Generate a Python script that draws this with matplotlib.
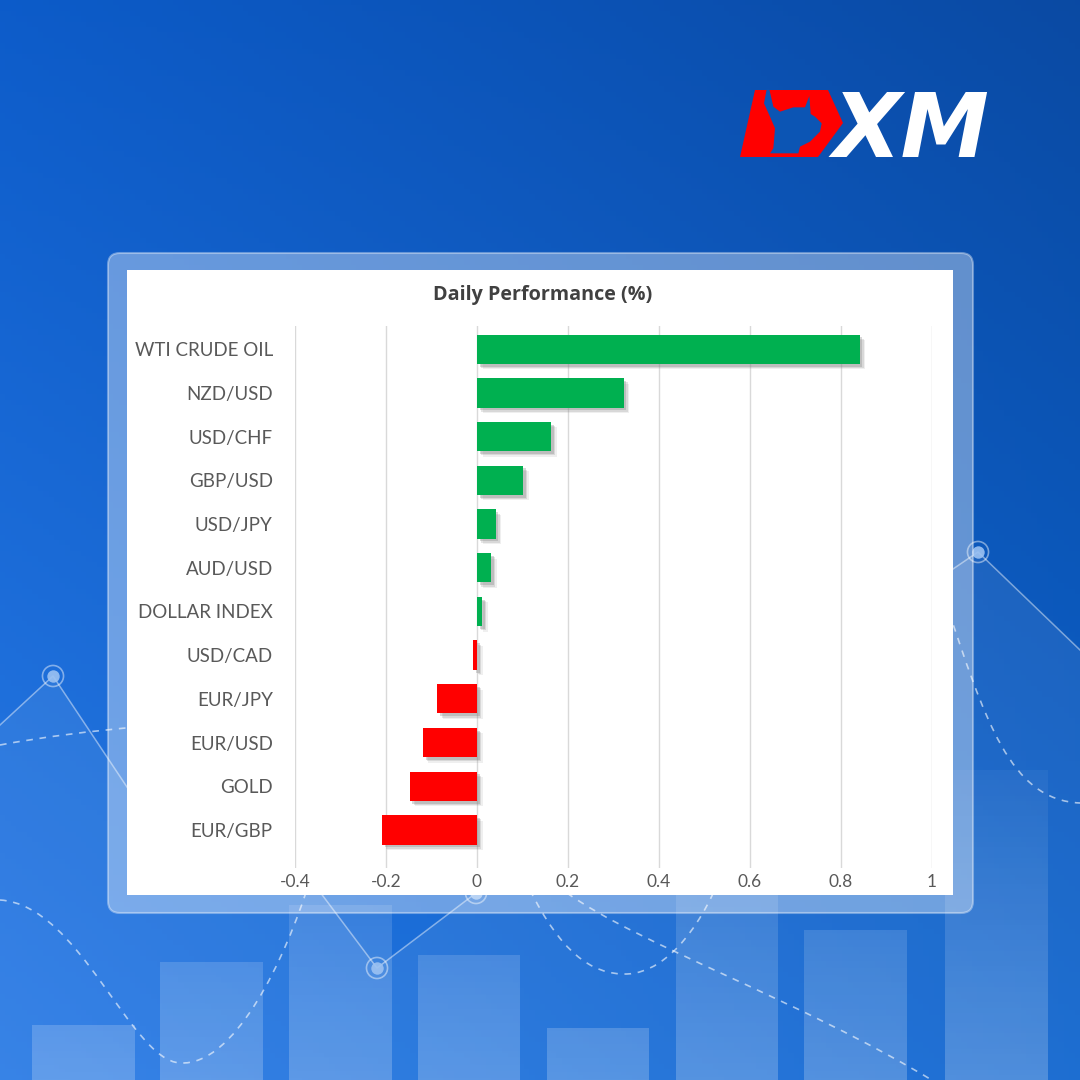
import numpy as np
import matplotlib.pyplot as plt
import matplotlib.patheffects as pe
from matplotlib.patches import Rectangle, FancyBboxPatch, Polygon, PathPatch
from matplotlib.path import Path

# ---- chart data ----
categories = ["WTI CRUDE OIL", "NZD/USD", "USD/CHF", "GBP/USD", "USD/JPY", "AUD/USD",
              "DOLLAR INDEX", "USD/CAD", "EUR/JPY", "EUR/USD", "GOLD", "EUR/GBP"]
values = [0.841, 0.322, 0.163, 0.101, 0.041, 0.031, 0.011, -0.008, -0.087, -0.119, -0.148, -0.209]
x_ticks = [-0.4, -0.2, 0, 0.2, 0.4, 0.6, 0.8, 1.0]
x_tick_labels = ["-0.4", "-0.2", "0", "0.2", "0.4", "0.6", "0.8", "1"]
title = "Daily Performance (%)"

# ---- background decoration (pixel coords, y down) ----
bg_columns = [(32, 135, 1025), (160, 263, 962), (289, 392, 905), (418, 520, 955),
              (547, 649, 1028), (676, 778, 880), (804, 907, 930), (945, 1048, 770)]
line_pts = [(0, 725), (53, 676), (145, 814), (215, 752), (377, 968), (476, 893),
            (978, 552), (1080, 650)]
ring_pts = [(53, 676), (377, 968), (476, 893), (978, 552)]
dash_curves = [
    [(0, 745), (80, 730), (200, 718), (320, 722)],
    [(0, 900), (80, 905), (130, 1060), (180, 1063), (235, 1066), (285, 960), (310, 880)],
    [(530, 890), (560, 950), (590, 975), (627, 974), (670, 972), (705, 920), (725, 865)],
    [(567, 893), (640, 945), (800, 1000), (935, 1082)],
    [(945, 600), (985, 720), (1010, 800), (1080, 803)],
]

W = H = 1080
fig = plt.figure(figsize=(10.8, 10.8), dpi=100)
bg = fig.add_axes([0, 0, 1, 1])
bg.axis("off")

# gradient background (bilinear between corner colours)
tl = np.array([0.05, 0.36, 0.79]); tr = np.array([0.04, 0.29, 0.64])
bl = np.array([0.16, 0.48, 0.90]); br = np.array([0.05, 0.39, 0.81])
gy, gx = np.mgrid[0:1:200j, 0:1:200j]
grad = ((1 - gy)[..., None] * ((1 - gx)[..., None] * tl + gx[..., None] * tr)
        + gy[..., None] * ((1 - gx)[..., None] * bl + gx[..., None] * br))
bg.imshow(grad, extent=[0, W, H, 0], aspect="auto", zorder=0)

# translucent columns fading upwards
for x0, x1, top in bg_columns:
    rows = np.linspace(top, H, 60)
    col = np.ones((60, 1, 4))
    col[:, 0, 3] = np.clip(0.03 + 0.19 * (rows - 740) / 340, 0.03, 0.22)
    bg.imshow(col, extent=[x0, x1, H, top], aspect="auto", zorder=1)

lx = [p[0] for p in line_pts]; ly = [p[1] for p in line_pts]
bg.fill_between(lx, ly, H, color="white", alpha=0.07, lw=0, zorder=1)
bg.plot(lx, ly, color="white", alpha=0.45, lw=1.1, zorder=2)
bg.scatter([p[0] for p in ring_pts], [p[1] for p in ring_pts], s=230,
           facecolors="none", edgecolors="white", alpha=0.45, lw=1.2, zorder=3)
bg.scatter([p[0] for p in ring_pts], [p[1] for p in ring_pts], s=80,
           color="#9cc2f2", alpha=0.9, lw=0, zorder=3)

for pts in dash_curves:
    codes = [Path.MOVETO] + [Path.CURVE4] * (len(pts) - 1)
    bg.add_patch(PathPatch(Path(pts, codes), facecolor="none", edgecolor="white",
                           alpha=0.6, lw=1.2, ls=(0, (4, 4)), zorder=2))

# XM logo
red_shape = [(740, 157), (755, 90), (828, 90), (843, 123), (818, 157)]
bull = [(140, 58), (132, 100), (150, 140), (165, 175), (160, 235), (150, 250), (235, 250),
        (240, 230), (270, 215), (300, 185), (305, 160), (285, 140), (272, 132), (268, 78),
        (255, 112), (220, 112), (180, 125), (160, 110), (148, 58)]
bg.add_patch(Polygon(red_shape, closed=True, facecolor="#ff0000", edgecolor="none", zorder=4))
bg.add_patch(Polygon([(720 + a / 3, 70 + b / 3) for a, b in bull], closed=True,
                     facecolor="#0c55b4", edgecolor="none", zorder=5))
bg.text(833, 157, "XM", color="white", fontsize=64, fontweight="bold",
        fontstyle="italic", ha="left", va="baseline", zorder=5)

# panel
bg.add_patch(FancyBboxPatch((108, 253), 865, 660, boxstyle="round,pad=0,rounding_size=12",
                            facecolor="white", alpha=0.36, edgecolor="white", lw=1.5, zorder=6))
bg.add_patch(Rectangle((127, 270), 826, 625, facecolor="white", edgecolor="none", zorder=7))
bg.set_xlim(0, W); bg.set_ylim(H, 0)

# ---- chart ----
plt.rcParams["font.family"] = ["Lato", "DejaVu Sans"]
ax = fig.add_axes([295 / W, 1 - 868 / H, (932 - 295) / W, (868 - 326) / H])
ax.patch.set_alpha(0)
ypos = np.arange(len(categories))
colors = ["#00b050" if v >= 0 else "#ff0000" for v in values]
bars = ax.barh(ypos, values, height=0.67, color=colors, zorder=3)
soft_shadow = [pe.SimplePatchShadow(offset=(o, -o), shadow_rgbFace="#808080", alpha=a)
               for o, a in [(4.0, 0.12), (3.0, 0.2), (2.0, 0.3)]]
for b in bars:
    b.set_path_effects(soft_shadow + [pe.Normal()])
ax.set_xlim(-0.4, 1.0)
ax.set_ylim(11.87, -0.53)
ax.set_xticks(x_ticks)
ax.set_xticklabels(x_tick_labels)
ax.set_yticks(ypos)
ax.set_yticklabels(categories)
ax.grid(axis="x", color="#d9d9d9", lw=1, zorder=0)
for s in ax.spines.values():
    s.set_visible(False)
ax.tick_params(axis="x", length=0, pad=4, labelsize=12.5, labelcolor="#595959")
ax.tick_params(axis="y", length=0, pad=16, labelsize=13.5, labelcolor="#595959")

fig.text(543 / W, 1 - 295 / H, title, ha="center", va="center", fontsize=14.2,
         fontweight="bold", color="#404040", family=["Open Sans", "DejaVu Sans"])

fig.savefig("out.png", dpi=100)
